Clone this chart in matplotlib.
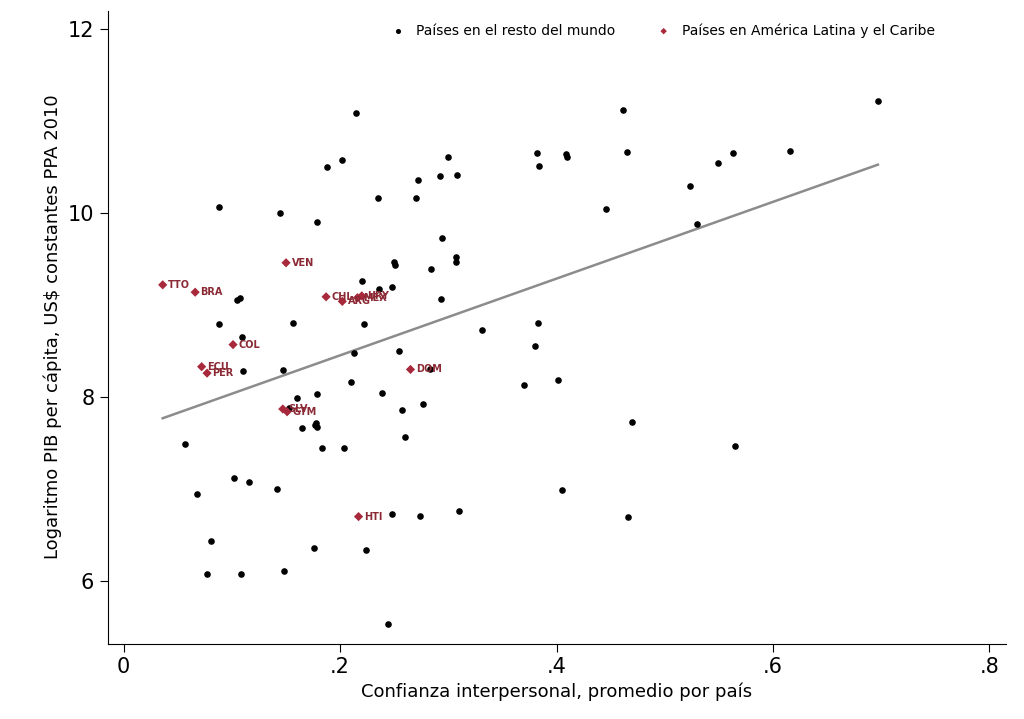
import matplotlib.pyplot as plt
import numpy as np

# Resto del mundo
rx = [0.697, 0.461, 0.215, 0.465, 0.616, 0.563, 0.382, 0.409, 0.410, 0.549, 0.384, 0.202,
      0.188, 0.300, 0.308, 0.292, 0.272, 0.523, 0.235, 0.270, 0.088, 0.446, 0.144, 0.179,
      0.530, 0.294, 0.307, 0.307, 0.250, 0.251, 0.284, 0.220, 0.248, 0.236, 0.293, 0.107,
      0.105, 0.088, 0.156, 0.222, 0.383, 0.331, 0.109, 0.380, 0.213, 0.254, 0.147, 0.110,
      0.283, 0.210, 0.401, 0.370, 0.239, 0.160, 0.179, 0.470, 0.257, 0.277, 0.177, 0.179,
      0.165, 0.260, 0.057, 0.183, 0.204, 0.565, 0.102, 0.116, 0.142, 0.405, 0.068, 0.310,
      0.248, 0.274, 0.466, 0.081, 0.176, 0.224, 0.077, 0.108, 0.148, 0.244, 0.153, 0.178]
ry = [11.22, 11.12, 11.09, 10.66, 10.68, 10.65, 10.65, 10.64, 10.61, 10.54, 10.51, 10.58,
      10.50, 10.61, 10.41, 10.40, 10.36, 10.30, 10.16, 10.16, 10.07, 10.05, 10.00, 9.90,
      9.88, 9.73, 9.52, 9.47, 9.47, 9.44, 9.39, 9.26, 9.20, 9.17, 9.07, 9.08,
      9.05, 8.79, 8.81, 8.79, 8.80, 8.73, 8.65, 8.55, 8.48, 8.50, 8.29, 8.28,
      8.31, 8.16, 8.18, 8.13, 8.04, 7.99, 8.03, 7.73, 7.86, 7.92, 7.70, 7.67,
      7.66, 7.57, 7.49, 7.45, 7.45, 7.47, 7.12, 7.08, 7.00, 6.99, 6.95, 6.76,
      6.73, 6.71, 6.70, 6.44, 6.36, 6.34, 6.08, 6.08, 6.11, 5.53, 7.88, 7.72]

# America Latina y el Caribe
lac_code = ['TTO', 'BRA', 'VEN', 'CHL', 'URY', 'MEX', 'ARG', 'COL', 'ECU', 'PER',
            'DOM', 'SLV', 'GTM', 'HTI']
lac_x = [0.036, 0.066, 0.150, 0.187, 0.220, 0.216, 0.202, 0.101, 0.072, 0.077,
         0.265, 0.147, 0.151, 0.217]
lac_y = [9.22, 9.14, 9.46, 9.09, 9.10, 9.08, 9.04, 8.57, 8.33, 8.26,
         8.30, 7.87, 7.84, 6.70]

fig, ax = plt.subplots(figsize=(10.24, 7.19), dpi=100)
fig.subplots_adjust(left=0.105, right=0.982, bottom=0.105, top=0.985)

ax.scatter(rx, ry, s=14, color='black', zorder=3, label='Países en el resto del mundo')
ax.scatter(lac_x, lac_y, s=22, marker='D', color='#a8283c', edgecolors='none', zorder=3,
           label='Países en América Latina y el Caribe')
for c, x, y in zip(lac_code, lac_x, lac_y):
    ax.text(x + 0.005, y, c, fontsize=7, fontweight='bold', color='#8b2a35', va='center', zorder=4)

# Linear fit on all countries
allx = np.array(rx + lac_x)
ally = np.array(ry + lac_y)
b, a = np.polyfit(allx, ally, 1)
xs = np.array([allx.min(), allx.max()])
ax.plot(xs, a + b * xs, color='#8c8c8c', lw=1.8, zorder=2)

ax.set_xlim(-0.015, 0.815)
ax.set_ylim(5.32, 12.2)
ax.set_xticks([0, 0.2, 0.4, 0.6, 0.8])
ax.set_xticklabels(['0', '.2', '.4', '.6', '.8'])
ax.set_yticks([6, 8, 10, 12])
ax.tick_params(labelsize=15, length=6)
ax.set_xlabel('Confianza interpersonal, promedio por país', fontsize=13)
ax.set_ylabel('Logaritmo PIB per cápita, US$ constantes PPA 2010', fontsize=13)
for s in ['top', 'right']:
    ax.spines[s].set_visible(False)
ax.legend(loc='upper right', bbox_to_anchor=(0.935, 1.0), ncol=2, frameon=False,
          fontsize=10, markerscale=0.7, handletextpad=0.3, columnspacing=2.5)

fig.savefig('out.png')
